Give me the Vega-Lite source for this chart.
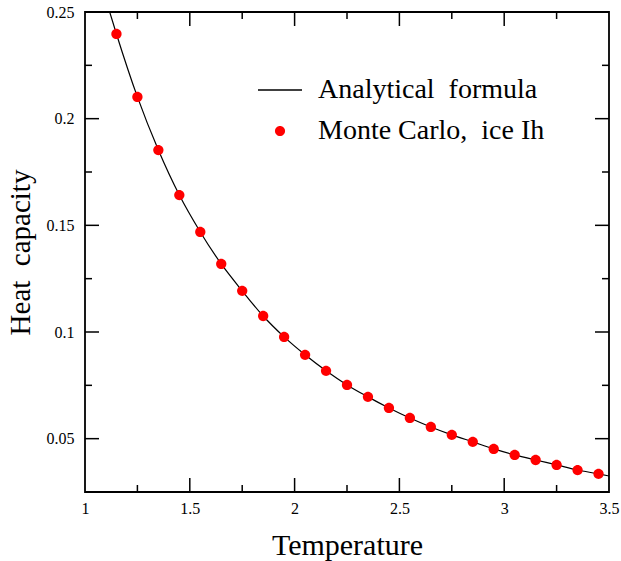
{
  "$schema": "https://vega.github.io/schema/vega-lite/v6.json",
  "width": 524,
  "height": 480,
  "autosize": {"type": "none"},
  "padding": {"left": 85, "top": 12, "right": 12, "bottom": 69},
  "background": "white",
  "config": {
    "view": {"stroke": "black", "strokeWidth": 1.8},
    "font": "Liberation Serif",
    "axis": {"grid": false, "labelFont": "Liberation Serif", "labelFontSize": 16, "labelColor": "black", "titleFont": "Liberation Serif", "titleFontSize": 30, "titleFontWeight": "normal", "titleColor": "black"}
  },
  "datasets": {
    "curve": [
      {"T": 1.11, "C": 0.2525},
      {"T": 1.15, "C": 0.2397},
      {"T": 1.25, "C": 0.2102},
      {"T": 1.35, "C": 0.1853},
      {"T": 1.45, "C": 0.1642},
      {"T": 1.55, "C": 0.1469},
      {"T": 1.65, "C": 0.1319},
      {"T": 1.75, "C": 0.1193},
      {"T": 1.85, "C": 0.1075},
      {"T": 1.95, "C": 0.0977},
      {"T": 2.05, "C": 0.0893},
      {"T": 2.15, "C": 0.0818},
      {"T": 2.25, "C": 0.0752},
      {"T": 2.35, "C": 0.0696},
      {"T": 2.45, "C": 0.0644},
      {"T": 2.55, "C": 0.0597},
      {"T": 2.65, "C": 0.0555},
      {"T": 2.75, "C": 0.0518},
      {"T": 2.85, "C": 0.0485},
      {"T": 2.95, "C": 0.0452},
      {"T": 3.05, "C": 0.0424},
      {"T": 3.15, "C": 0.0400},
      {"T": 3.25, "C": 0.0377},
      {"T": 3.35, "C": 0.0353},
      {"T": 3.45, "C": 0.0335},
      {"T": 3.5, "C": 0.0325}
    ],
    "mc": [
      {"T": 1.15, "C": 0.2397, "series": "Monte Carlo,\u00a0 ice Ih"},
      {"T": 1.25, "C": 0.2102, "series": "Monte Carlo,\u00a0 ice Ih"},
      {"T": 1.35, "C": 0.1853, "series": "Monte Carlo,\u00a0 ice Ih"},
      {"T": 1.45, "C": 0.1642, "series": "Monte Carlo,\u00a0 ice Ih"},
      {"T": 1.55, "C": 0.1469, "series": "Monte Carlo,\u00a0 ice Ih"},
      {"T": 1.65, "C": 0.1319, "series": "Monte Carlo,\u00a0 ice Ih"},
      {"T": 1.75, "C": 0.1193, "series": "Monte Carlo,\u00a0 ice Ih"},
      {"T": 1.85, "C": 0.1075, "series": "Monte Carlo,\u00a0 ice Ih"},
      {"T": 1.95, "C": 0.0977, "series": "Monte Carlo,\u00a0 ice Ih"},
      {"T": 2.05, "C": 0.0893, "series": "Monte Carlo,\u00a0 ice Ih"},
      {"T": 2.15, "C": 0.0818, "series": "Monte Carlo,\u00a0 ice Ih"},
      {"T": 2.25, "C": 0.0752, "series": "Monte Carlo,\u00a0 ice Ih"},
      {"T": 2.35, "C": 0.0696, "series": "Monte Carlo,\u00a0 ice Ih"},
      {"T": 2.45, "C": 0.0644, "series": "Monte Carlo,\u00a0 ice Ih"},
      {"T": 2.55, "C": 0.0597, "series": "Monte Carlo,\u00a0 ice Ih"},
      {"T": 2.65, "C": 0.0555, "series": "Monte Carlo,\u00a0 ice Ih"},
      {"T": 2.75, "C": 0.0518, "series": "Monte Carlo,\u00a0 ice Ih"},
      {"T": 2.85, "C": 0.0485, "series": "Monte Carlo,\u00a0 ice Ih"},
      {"T": 2.95, "C": 0.0452, "series": "Monte Carlo,\u00a0 ice Ih"},
      {"T": 3.05, "C": 0.0424, "series": "Monte Carlo,\u00a0 ice Ih"},
      {"T": 3.15, "C": 0.0400, "series": "Monte Carlo,\u00a0 ice Ih"},
      {"T": 3.25, "C": 0.0377, "series": "Monte Carlo,\u00a0 ice Ih"},
      {"T": 3.35, "C": 0.0353, "series": "Monte Carlo,\u00a0 ice Ih"},
      {"T": 3.45, "C": 0.0335, "series": "Monte Carlo,\u00a0 ice Ih"}
    ],
    "xmajor": [{"v": 1.5}, {"v": 2}, {"v": 2.5}, {"v": 3}],
    "xminor": [{"v": 1.25}, {"v": 1.75}, {"v": 2.25}, {"v": 2.75}, {"v": 3.25}],
    "ymajor": [{"v": 0.05}, {"v": 0.1}, {"v": 0.15}, {"v": 0.2}],
    "yminor": [{"v": 0.075}, {"v": 0.125}, {"v": 0.175}, {"v": 0.225}]
  },
  "resolve": {"axis": {"x": "independent", "y": "independent"}},
  "layer": [
    {
      "data": {"name": "curve"},
      "mark": {"type": "line", "color": "black", "strokeWidth": 1.2, "interpolate": "monotone", "clip": true},
      "encoding": {
        "x": {"field": "T", "type": "quantitative", "scale": {"domain": [1, 3.5], "nice": false, "zero": false},
          "axis": {"orient": "bottom", "values": [1, 1.5, 2, 2.5, 3, 3.5], "format": "~g", "ticks": false, "domain": false, "labelPadding": 8, "title": "Temperature", "titlePadding": 14, "labelFlush": false, "labelOverlap": false}},
        "y": {"field": "C", "type": "quantitative", "scale": {"domain": [0.025, 0.25], "nice": false, "zero": false},
          "axis": {"orient": "left", "values": [0.05, 0.1, 0.15, 0.2, 0.25], "format": "~g", "ticks": false, "domain": false, "labelPadding": 11, "title": "Heat\u00a0 capacity", "titleFontSize": 29, "titlePadding": 11, "labelFlush": false, "labelOverlap": false}}
      }
    },
    {
      "data": {"name": "xmajor"},
      "mark": {"type": "rule", "color": "black", "strokeWidth": 1.5},
      "encoding": {"x": {"field": "v", "type": "quantitative", "axis": null}, "y": {"datum": 0.025, "type": "quantitative", "axis": null}, "y2": {"datum": 0.03156}}
    },
    {
      "data": {"name": "xmajor"},
      "mark": {"type": "rule", "color": "black", "strokeWidth": 1.5},
      "encoding": {"x": {"field": "v", "type": "quantitative", "axis": null}, "y": {"datum": 0.25, "type": "quantitative", "axis": null}, "y2": {"datum": 0.24344}}
    },
    {
      "data": {"name": "xminor"},
      "mark": {"type": "rule", "color": "black", "strokeWidth": 1.5},
      "encoding": {"x": {"field": "v", "type": "quantitative", "axis": null}, "y": {"datum": 0.025, "type": "quantitative", "axis": null}, "y2": {"datum": 0.02828}}
    },
    {
      "data": {"name": "xminor"},
      "mark": {"type": "rule", "color": "black", "strokeWidth": 1.5},
      "encoding": {"x": {"field": "v", "type": "quantitative", "axis": null}, "y": {"datum": 0.25, "type": "quantitative", "axis": null}, "y2": {"datum": 0.24672}}
    },
    {
      "data": {"name": "ymajor"},
      "mark": {"type": "rule", "color": "black", "strokeWidth": 1.5},
      "encoding": {"y": {"field": "v", "type": "quantitative", "axis": null}, "x": {"datum": 1, "type": "quantitative", "axis": null}, "x2": {"datum": 1.0668}}
    },
    {
      "data": {"name": "ymajor"},
      "mark": {"type": "rule", "color": "black", "strokeWidth": 1.5},
      "encoding": {"y": {"field": "v", "type": "quantitative", "axis": null}, "x": {"datum": 3.5, "type": "quantitative", "axis": null}, "x2": {"datum": 3.4332}}
    },
    {
      "data": {"name": "yminor"},
      "mark": {"type": "rule", "color": "black", "strokeWidth": 1.5},
      "encoding": {"y": {"field": "v", "type": "quantitative", "axis": null}, "x": {"datum": 1, "type": "quantitative", "axis": null}, "x2": {"datum": 1.0334}}
    },
    {
      "data": {"name": "yminor"},
      "mark": {"type": "rule", "color": "black", "strokeWidth": 1.5},
      "encoding": {"y": {"field": "v", "type": "quantitative", "axis": null}, "x": {"datum": 3.5, "type": "quantitative", "axis": null}, "x2": {"datum": 3.4666}}
    },
    {
      "data": {"name": "mc"},
      "mark": {"type": "point", "filled": true, "opacity": 1, "size": 2000, "strokeWidth": 0},
      "encoding": {
        "x": {"field": "T", "type": "quantitative", "axis": null},
        "y": {"field": "C", "type": "quantitative", "axis": null},
        "color": {"field": "series", "type": "nominal",
          "scale": {"domain": ["Analytical\u00a0 formula", "Monte Carlo,\u00a0 ice Ih"], "range": ["black", "#ff0000"]},
          "legend": {"orient": "none", "legendX": 173, "legendY": 56, "title": null, "symbolSize": 1936, "symbolStrokeWidth": 0, "symbolOpacity": 1, "labelFont": "Liberation Serif", "labelFontSize": 28, "labelColor": "black", "labelOffset": 16, "rowPadding": 5, "labelLimit": 400}},
        "shape": {"field": "series", "type": "nominal",
          "scale": {"domain": ["Analytical\u00a0 formula", "Monte Carlo,\u00a0 ice Ih"], "range": ["M-1,-0.03H1V0.03H-1Z", "M0.23,0A0.23,0.23 0 1,1 -0.23,0A0.23,0.23 0 1,1 0.23,0Z"]}}
      }
    }
  ]
}
